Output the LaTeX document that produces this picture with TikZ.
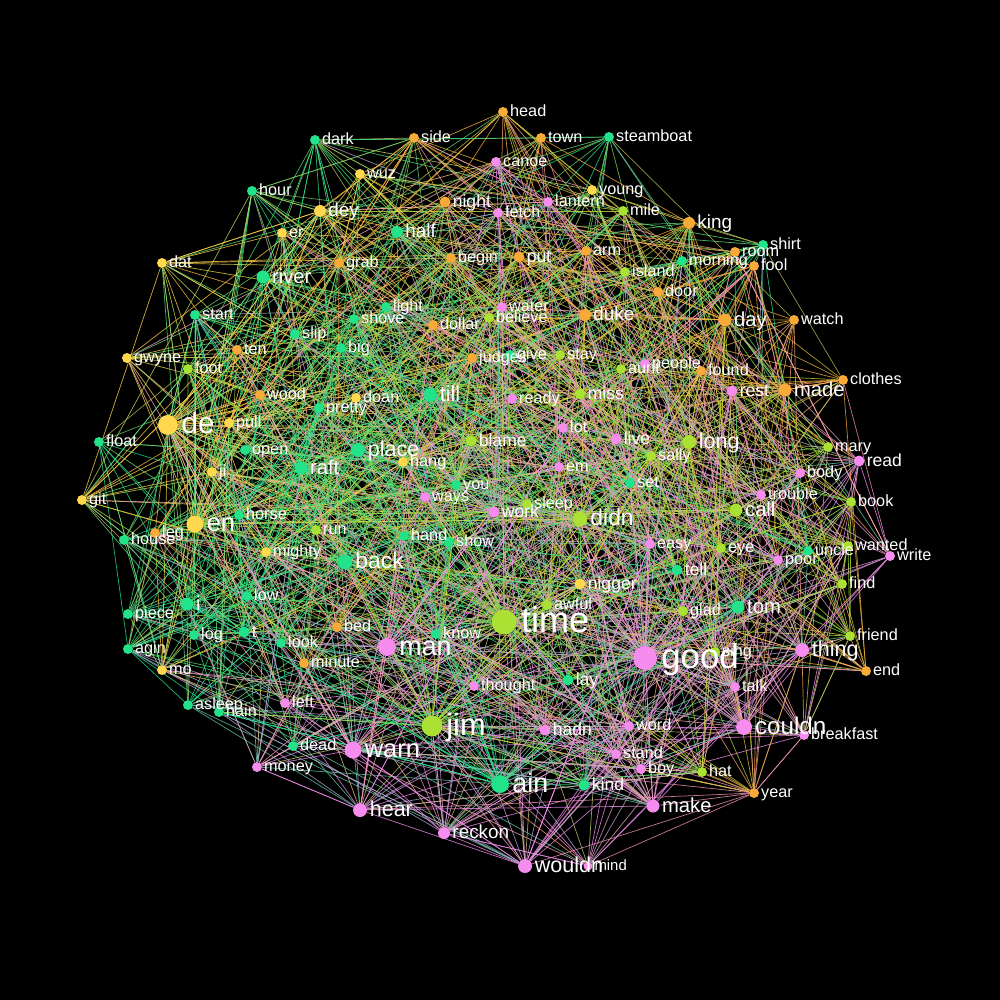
\documentclass[tikz,border=0pt]{standalone}
\usepackage{fontspec}
\setmainfont{Liberation Sans}
\pgfdeclarelayer{bg}
\pgfdeclarelayer{edges}
\pgfsetlayers{bg,edges,main}
\definecolor{cG}{RGB}{34,226,138}
\definecolor{cY}{RGB}{255,216,77}
\definecolor{cO}{RGB}{248,170,56}
\definecolor{cP}{RGB}{245,140,238}
\definecolor{cL}{RGB}{170,225,50}
\tikzset{
  dot/.style={circle,inner sep=0pt,draw=none},
  lab/.style={text=white,inner sep=0pt,anchor=base west},
  edge/.style={line width=0.7pt,opacity=0.8},
}
\begin{document}
\begin{tikzpicture}[x=1pt,y=-1pt]
\begin{pgfonlayer}{bg}
\fill[black] (0,0) rectangle (1000,1000);
\end{pgfonlayer}
\useasboundingbox (0,0) rectangle (1000,1000);
% nodes
\foreach \px/\py/\pc/\pr/\pl [count=\i] in {
503/112/O/5/head, 414/138/O/5/side, 541/138/O/5/town, 609/137/G/5/steamboat,
315/140/G/5/dark, 496/162/P/5/canoe, 252/191/G/5/hour, 360/174/Y/5/wuz,
592/190/Y/5/young, 320/211/Y/6/dey, 445/202/O/5.5/night, 498/213/P/5/fetch,
548/202/P/5/lantern, 623/211/L/5/mile, 689/223/O/6/king, 282/233/Y/5/er,
397/232/G/6/half, 586/251/O/5/arm, 451/258/O/5/begin, 519/257/O/5.5/put,
763/245/G/5/shirt, 735/252/O/5/room, 682/261/G/5/morning, 754/266/O/5/fool,
162/263/Y/5/dat, 339/263/O/5/grab, 263/277/G/6.5/river, 625/272/L/5/island,
658/292/O/5/door, 386/307/G/5/light, 502/307/P/5/water, 489/318/L/5/believe,
195/315/G/5/start, 354/319/G/5/shove, 433/325/O/5/dollar, 585/315/O/6/duke,
725/320/O/6.5/day, 794/320/O/5/watch, 295/334/G/5/slip, 237/350/O/5/ten,
341/348/G/5/big, 472/358/O/5/judges, 510/355/G/5/give, 560/355/L/5/stay,
127/358/Y/5/gwyne, 188/369/L/5/foot, 621/369/L/5/aunt, 645/364/P/5/people,
701/371/O/5/found, 843/380/O/5/clothes, 785/390/O/6.5/made, 732/391/P/5.5/rest,
260/395/O/5/wood, 356/398/Y/5/doan, 319/408/G/5/pretty, 430/395/G/7/till,
512/399/P/5/ready, 580/394/L/5.5/miss, 168/425/Y/10/de, 229/423/Y/5/pull,
563/428/P/5/lot, 99/442/G/5/float, 245/450/G/5/open, 616/439/P/5.5/live,
689/442/L/7/long, 358/450/G/7/place, 471/441/L/5.5/blame, 828/447/L/5/mary,
859/461/P/5.5/read, 403/462/Y/5/hang, 651/456/L/5/sally, 559/467/P/5/em,
301/468/G/6.5/raft, 212/472/Y/5/ji, 800/473/P/5/body, 456/485/G/5/you,
630/483/G/5/set, 425/497/P/5/ways, 82/500/Y/5/git, 761/495/P/5/trouble,
851/502/L/5/book, 527/504/L/5/sleep, 494/512/P/5.5/work, 736/510/L/6.5/call,
580/519/L/7.5/didn, 239/515/G/5/horse, 195/524/Y/8.5/en, 316/530/L/5/run,
155/533/O/5/leg, 124/540/G/5/house, 404/536/G/5/hand, 449/542/G/5/show,
650/544/P/5/easy, 721/548/L/5/eye, 808/551/G/5/uncle, 848/546/L/5/wanted,
778/560/P/5/poor, 890/556/P/5/write, 266/552/Y/5/mighty, 345/562/G/7.5/back,
677/570/G/5.5/tell, 580/584/Y/5.5/nigger, 842/584/L/5/find, 547/605/L/5/awful,
683/611/L/5/glad, 187/604/G/6.5/i, 247/596/G/5/low, 128/614/G/5/piece,
738/607/G/6.5/tom, 504/622/L/12.5/time, 244/632/G/5.5/t, 194/635/G/5/log,
337/627/O/5/bed, 436/634/G/5/know, 281/643/G/5/look, 387/647/P/9/man,
128/649/G/5/agin, 645/658/P/12/good, 715/652/L/5/sing, 802/650/P/7/thing,
850/636/L/5/friend, 162/670/Y/5/mo, 304/663/O/5/minute, 866/671/O/5/end,
568/680/G/5.5/lay, 474/686/P/5/thought, 735/687/P/5/talk, 188/705/G/5/asleep,
219/712/G/5/hain, 285/703/P/5/left, 432/726/L/10.5/jim, 629/726/P/5/word,
545/730/P/5.5/hadn, 744/727/P/8/couldn, 804/735/P/5/breakfast, 293/746/G/5/dead,
616/754/P/5/stand, 353/750/P/8.5/warn, 641/769/P/5/boy, 702/772/L/5/hat,
257/767/P/5/money, 500/784/G/9/ain, 584/785/G/5.5/kind, 754/793/O/5/year,
653/806/P/6.5/make, 360/810/P/7/hear, 444/833/P/6/reckon, 525/866/P/7/wouldn,
588/866/P/4.5/mind}
{
  \node[dot,fill=c\pc,minimum size={2*\pr pt}] (n\i) at (\px,\py) {};
  \expandafter\xdef\csname nx\i\endcsname{\px}
  \expandafter\xdef\csname ny\i\endcsname{\py}
  \expandafter\xdef\csname nc\i\endcsname{\pc}
  \expandafter\xdef\csname nr\i\endcsname{\pr}
  \expandafter\xdef\csname nl\i\endcsname{\pl}
  \xdef\N{\i}
}
% labels
\foreach \i in {1,...,\N} {
  \edef\px{\csname nx\i\endcsname}
  \edef\py{\csname ny\i\endcsname}
  \edef\pr{\csname nr\i\endcsname}
  \pgfmathsetmacro\fs{2.65*\pr+3}
  \pgfmathsetmacro\tx{\px+\pr+0.12*\fs}
  \pgfmathsetmacro\ty{\py+0.3*\fs}
  \node[lab,font=\fontsize{\fs}{\fs}\selectfont] (l\i) at (\tx,\ty) {\csname nl\i\endcsname};
}
% edges
\pgfmathsetseed{271}
\begin{pgfonlayer}{edges}
\foreach \i in {1,...,\N} {
  \edef\xi{\csname nx\i\endcsname}
  \edef\yi{\csname ny\i\endcsname}
  \edef\ci{\csname nc\i\endcsname}
  \edef\ri{\csname nr\i\endcsname}
  \pgfmathtruncatemacro\k{round(0.42*\ri*\ri)}
  \foreach \j in {1,...,\k} {
    \pgfmathrandominteger{\ra}{1}{\N}
    \pgfmathrandominteger{\rb}{1}{\N}
    \edef\xa{\csname nx\ra\endcsname}
    \edef\ya{\csname ny\ra\endcsname}
    \edef\xb{\csname nx\rb\endcsname}
    \edef\yb{\csname ny\rb\endcsname}
    \pgfmathparse{(veclen(\xi-\xa,\yi-\ya) < veclen(\xi-\xb,\yi-\yb)) ? \ra : \rb}
    \pgfmathtruncatemacro\tg{\pgfmathresult}
    \ifnum\tg=\i\relax\else
      \edef\ct{\csname nc\tg\endcsname}
      \edef\ecol{c\ci!70!c\ct}
      \draw[edge,draw=\ecol] (n\i) -- (n\tg);
    \fi
  }
}
\end{pgfonlayer}
\end{tikzpicture}
\end{document}
